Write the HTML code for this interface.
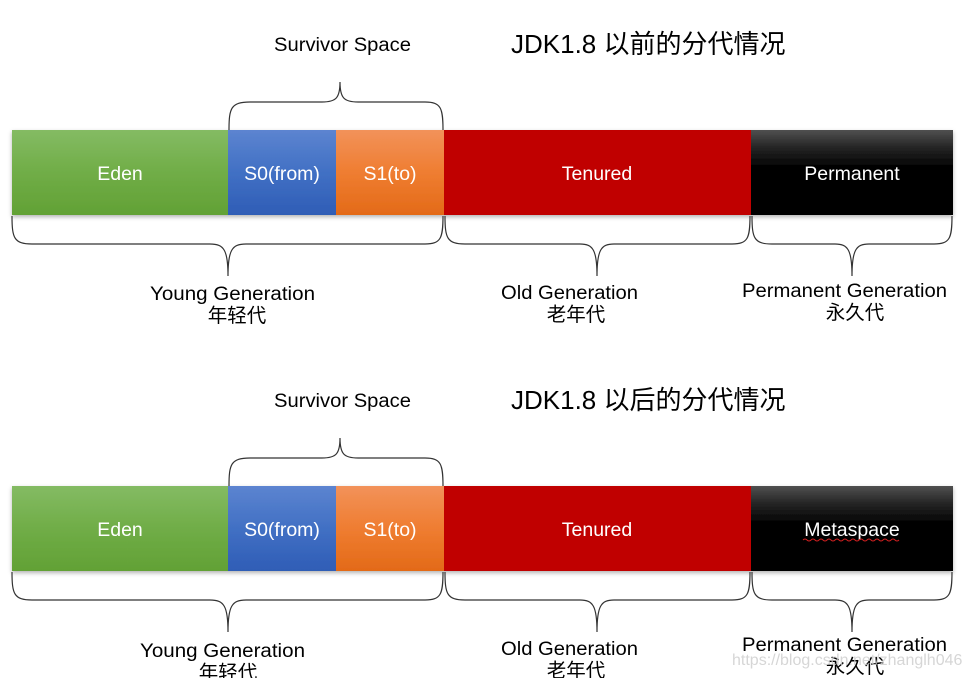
<!DOCTYPE html>
<html><head><meta charset="utf-8"><style>
html,body{margin:0;padding:0;background:#fff;width:969px;height:678px;overflow:hidden}
svg{display:block}
text{font-family:"Liberation Sans","Noto Sans CJK SC",sans-serif}
</style></head><body>
<svg width="969" height="678" viewBox="0 0 969 678" xmlns="http://www.w3.org/2000/svg">
<defs>
<linearGradient id="g" x1="0" y1="0" x2="0" y2="1"><stop offset="0" stop-color="#84bb63"/><stop offset=".5" stop-color="#70ad47"/><stop offset="1" stop-color="#62a135"/></linearGradient>
<linearGradient id="b" x1="0" y1="0" x2="0" y2="1"><stop offset="0" stop-color="#5c84d0"/><stop offset=".5" stop-color="#4170c4"/><stop offset="1" stop-color="#2f5db6"/></linearGradient>
<linearGradient id="o" x1="0" y1="0" x2="0" y2="1"><stop offset="0" stop-color="#f2925a"/><stop offset=".5" stop-color="#ef7d31"/><stop offset="1" stop-color="#e36a18"/></linearGradient>
<linearGradient id="k" x1="0" y1="0" x2="0" y2="1"><stop offset="0" stop-color="#505050"/><stop offset=".2" stop-color="#262626"/><stop offset=".45" stop-color="#000"/><stop offset="1" stop-color="#000"/></linearGradient>
<filter id="sh" x="-5%" y="-10%" width="110%" height="130%"><feDropShadow dx="0" dy="2" stdDeviation="2" flood-color="#000" flood-opacity=".3"/></filter>
<g id="bar">
<g filter="url(#sh)">
<rect x="12" y="0" width="216" height="85" fill="url(#g)"/>
<rect x="228" y="0" width="108" height="85" fill="url(#b)"/>
<rect x="336" y="0" width="108" height="85" fill="url(#o)"/>
<rect x="444" y="0" width="307" height="85" fill="#c00000"/>
<rect x="751" y="0" width="202" height="85" fill="url(#k)"/>
</g>
<g fill="#fff" font-size="19.5" text-anchor="middle">
<text x="120" y="50">Eden</text>
<text x="282" y="50">S0(from)</text>
<text x="390" y="50">S1(to)</text>
<text x="597" y="50">Tenured</text>
</g>
<g fill="none" stroke="#333" stroke-width="1.2">
<path d="M229 0 C229 -22 231 -28 250 -28 L322 -28 C336 -28 340 -32 340 -48 C340 -32 344 -28 358 -28 L425 -28 C441 -28 443 -22 443 0"/>
<path d="M12 86 C12 108 14 114 32 114 L210 114 C224 114 228 120 228 146 C228 120 232 114 246 114 L425 114 C441 114 443 108 443 86"/>
<path d="M445 86 C445 108 447 114 465 114 L580 114 C593 114 597 120 597 146 C597 120 601 114 614 114 L732 114 C748 114 750 108 750 86"/>
<path d="M752 86 C752 108 754 114 772 114 L835 114 C848 114 852 120 852 146 C852 120 856 114 869 114 L934 114 C950 114 952 108 952 86"/>
</g>
</g>
</defs>
<g transform="translate(0,130)"><use href="#bar"/>
<text x="852" y="50" fill="#fff" font-size="19.5" text-anchor="middle">Permanent</text></g>
<g transform="translate(0,486)"><use href="#bar"/>
<text x="852" y="50" fill="#fff" font-size="19.5" text-anchor="middle">Metaspace</text>
<path d="M803 54 q2 -2 4 0 t4 0 t4 0 t4 0 t4 0 t4 0 t4 0 t4 0 t4 0 t4 0 t4 0 t4 0 t4 0 t4 0 t4 0 t4 0 t4 0 t4 0 t4 0 t4 0 t4 0 t4 0 t4 0 t4 0" fill="none" stroke="#d02020" stroke-width="1"/></g>

<g font-size="19" fill="#000">
<text x="274" y="51" textLength="137" lengthAdjust="spacingAndGlyphs">Survivor Space</text>
<text x="150" y="300" textLength="165" lengthAdjust="spacingAndGlyphs">Young Generation</text>
<text x="501" y="299" textLength="137" lengthAdjust="spacingAndGlyphs">Old Generation</text>
<text x="742" y="297" textLength="205" lengthAdjust="spacingAndGlyphs">Permanent Generation</text>

<text x="274" y="407" textLength="137" lengthAdjust="spacingAndGlyphs">Survivor Space</text>
<text x="140" y="657" textLength="165" lengthAdjust="spacingAndGlyphs">Young Generation</text>
<text x="501" y="655" textLength="137" lengthAdjust="spacingAndGlyphs">Old Generation</text>
<text x="742" y="651" textLength="205" lengthAdjust="spacingAndGlyphs">Permanent Generation</text>
</g>
<g font-size="19.5" fill="#000" text-anchor="middle">
<text x="237" y="322">年轻代</text>
<text x="576" y="321">老年代</text>
<text x="855" y="319">永久代</text>
<text x="228" y="679">年轻代</text>
<text x="576" y="677">老年代</text>
<text x="855" y="673">永久代</text>
</g>
<g font-size="26" fill="#000">
<text x="511" y="53">JDK1.8 以前的分代情况</text>
<text x="511" y="409">JDK1.8 以后的分代情况</text>
</g>
<text x="732" y="665" font-size="16" fill="#ccc" opacity=".8">https://blog.csdn.net/zhanglh046</text>
</svg>
</body></html>
